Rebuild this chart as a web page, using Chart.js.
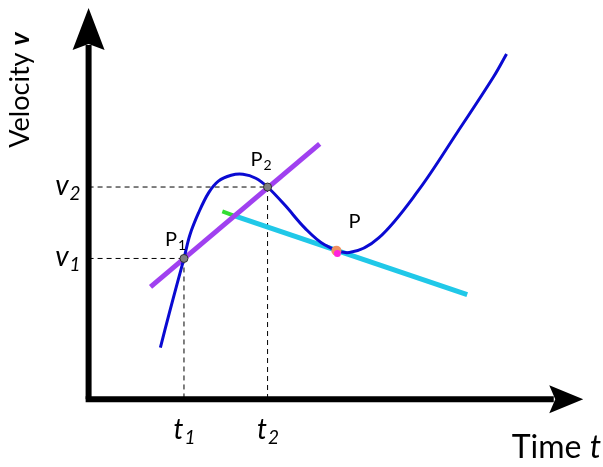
<!DOCTYPE html>
<html>
<head>
<meta charset="utf-8">
<script src="https://cdn.jsdelivr.net/npm/chart.js@4"></script>
<style>
  html, body { margin: 0; padding: 0; background: #fff; }
  #wrap { width: 603px; height: 467px; }
</style>
</head>
<body>
<div id="wrap"><canvas id="chart" width="603" height="467"></canvas></div>
<script>
// velocity curve (time, velocity) in plot units, origin at the axes corner
const curveT = [73, 82, 90, 97, 103, 112, 122, 132, 145, 157, 170, 182, 200, 220, 240, 265, 295, 335, 375, 412, 425];
const curveV = [53, 88, 118, 144, 168, 191, 211, 223, 229, 230, 226, 217, 198, 175, 158, 150, 165, 213, 273, 330, 353];

// secant through P1 and P2, tangent at P
const secantT = [63, 235];
const secantV = [115, 261];
const tangentT = [147, 385];
const tangentV = [188, 107];
const stubT = [136, 147];
const stubV = [192, 188];

// marked points
const t1 = 97, v1 = 144;
const t2 = 182, v2 = 217;
const pT = 253, pV = 150;

// axes
const axisMaxT = 503, axisMaxV = 400;

const toXY = (xs, ys) => xs.map((x, i) => ({ x: x, y: ys[i] }));

const labelsPlugin = {
  id: 'labels',
  afterDatasetsDraw(chart) {
    const ctx = chart.ctx;
    const sx = chart.scales.x, sy = chart.scales.y;
    const X = v => sx.getPixelForValue(v);
    const Y = v => sy.getPixelForValue(v);

    ctx.save();
    ctx.fillStyle = '#000';

    // arrow heads
    ctx.beginPath();
    ctx.moveTo(X(0), Y(axisMaxV));
    ctx.lineTo(X(0) - 16, Y(axisMaxV) + 42);
    ctx.lineTo(X(0), Y(axisMaxV) + 36);
    ctx.lineTo(X(0) + 16, Y(axisMaxV) + 42);
    ctx.closePath();
    ctx.fill();

    ctx.beginPath();
    ctx.moveTo(X(axisMaxT), Y(0));
    ctx.lineTo(X(axisMaxT) - 34, Y(0) - 14);
    ctx.lineTo(X(axisMaxT) - 28, Y(0));
    ctx.lineTo(X(axisMaxT) - 34, Y(0) + 14);
    ctx.closePath();
    ctx.fill();

    const sub = (main, s, x, y, size, italic, align) => {
      const f1 = (italic ? 'italic ' : '') + size + 'px Lato';
      const f2 = (italic ? 'italic ' : '') + Math.round(size * 0.68) + 'px Lato';
      ctx.font = f1;
      const w1 = ctx.measureText(main).width;
      ctx.font = f2;
      const w2 = ctx.measureText(s).width;
      let x0 = x;
      if (align === 'center') x0 = x - (w1 + w2) / 2;
      if (align === 'right') x0 = x - (w1 + w2);
      ctx.textAlign = 'left';
      ctx.textBaseline = 'alphabetic';
      ctx.font = f1;
      ctx.fillText(main, x0, y);
      ctx.font = f2;
      ctx.fillText(s, x0 + w1 + 1, y + size * 0.18);
    };

    // value / time labels
    sub('v', '2', X(0) - 9, Y(v2) + 8, 28, true, 'right');
    sub('v', '1', X(0) - 9, Y(v1) + 8, 28, true, 'right');
    sub('t', '1', X(t1), Y(0) + 40, 28, true, 'center');
    sub('t', '2', X(t2), Y(0) + 40, 28, true, 'center');

    // point labels
    sub('P', '1', X(t1) - 19, Y(v1) - 12, 20, false, 'left');
    sub('P', '2', X(t2) - 17, Y(v2) - 21, 20, false, 'left');
    ctx.font = '20px Lato';
    ctx.fillText('P', X(pT) + 11, Y(pV) - 25);

    // axis titles
    ctx.font = '32px Lato';
    const wt = ctx.measureText('Time ').width;
    ctx.font = 'italic 32px Lato';
    const wi = ctx.measureText('t').width;
    const xr = 601 - wt - wi;
    ctx.font = '32px Lato';
    ctx.fillText('Time ', xr, 458);
    ctx.font = 'italic 32px Lato';
    ctx.fillText('t', xr + wt, 458);

    ctx.translate(29, 90);
    ctx.rotate(-Math.PI / 2);
    ctx.font = '27px Lato';
    const wv = ctx.measureText('Velocity ').width;
    ctx.font = 'bold italic 27px Lato';
    const wb = ctx.measureText('v').width;
    ctx.font = '27px Lato';
    ctx.fillText('Velocity ', -(wv + wb) / 2, 0);
    ctx.font = 'bold italic 27px Lato';
    ctx.fillText('v', -(wv + wb) / 2 + wv, 0);
    ctx.restore();
  }
};

const dash = (pts) => ({
  data: pts, showLine: true, borderColor: '#000', borderWidth: 1,
  borderDash: [5, 4], pointRadius: 0, order: 5
});

new Chart(document.getElementById('chart'), {
  type: 'scatter',
  data: {
    datasets: [
      dash([{ x: 0, y: v2 }, { x: t2, y: v2 }]),
      dash([{ x: 0, y: v1 }, { x: t1, y: v1 }]),
      dash([{ x: t1, y: v1 }, { x: t1, y: 0 }]),
      dash([{ x: t2, y: v2 }, { x: t2, y: 0 }]),
      {
        data: [{ x: 0, y: 0 }, { x: 0, y: axisMaxV - 38 }],
        showLine: true, borderColor: '#000', borderWidth: 6, pointRadius: 0, order: 4
      },
      {
        data: [{ x: -3, y: 0 }, { x: axisMaxT - 30, y: 0 }],
        showLine: true, borderColor: '#000', borderWidth: 6, pointRadius: 0, order: 4
      },
      {
        data: toXY(secantT, secantV),
        showLine: true, borderColor: '#a040f0', borderWidth: 5, pointRadius: 0, order: 3
      },
      {
        data: toXY(stubT, stubV),
        showLine: true, borderColor: '#33dd33', borderWidth: 4, pointRadius: 0, order: 3
      },
      {
        data: toXY(tangentT, tangentV),
        showLine: true, borderColor: '#20c8e8', borderWidth: 5, pointRadius: 0, order: 3
      },
      {
        data: toXY(curveT, curveV),
        showLine: true, borderColor: '#0a0ad2', borderWidth: 3, pointRadius: 0,
        tension: 0.35, order: 2
      },
      {
        data: [{ x: t1, y: v1 }, { x: t2, y: v2 }],
        pointRadius: 4, pointBackgroundColor: '#808080', pointBorderColor: '#333',
        pointBorderWidth: 1, order: 1
      },
      {
        data: [{ x: pT - 1, y: pV + 2 }],
        pointRadius: 5, pointBackgroundColor: '#f09060', pointBorderWidth: 0, order: 1
      },
      {
        data: [{ x: pT, y: pV - 1 }],
        pointRadius: 3.5, pointBackgroundColor: '#ff22dd', pointBorderWidth: 0, order: 0
      }
    ]
  },
  options: {
    responsive: false,
    animation: false,
    layout: { padding: 0 },
    plugins: { legend: { display: false }, tooltip: { enabled: false } },
    scales: {
      x: { type: 'linear', min: -85, max: 518, display: false },
      y: { type: 'linear', min: -64, max: 403, display: false }
    }
  },
  plugins: [labelsPlugin]
});
</script>
</body>
</html>
